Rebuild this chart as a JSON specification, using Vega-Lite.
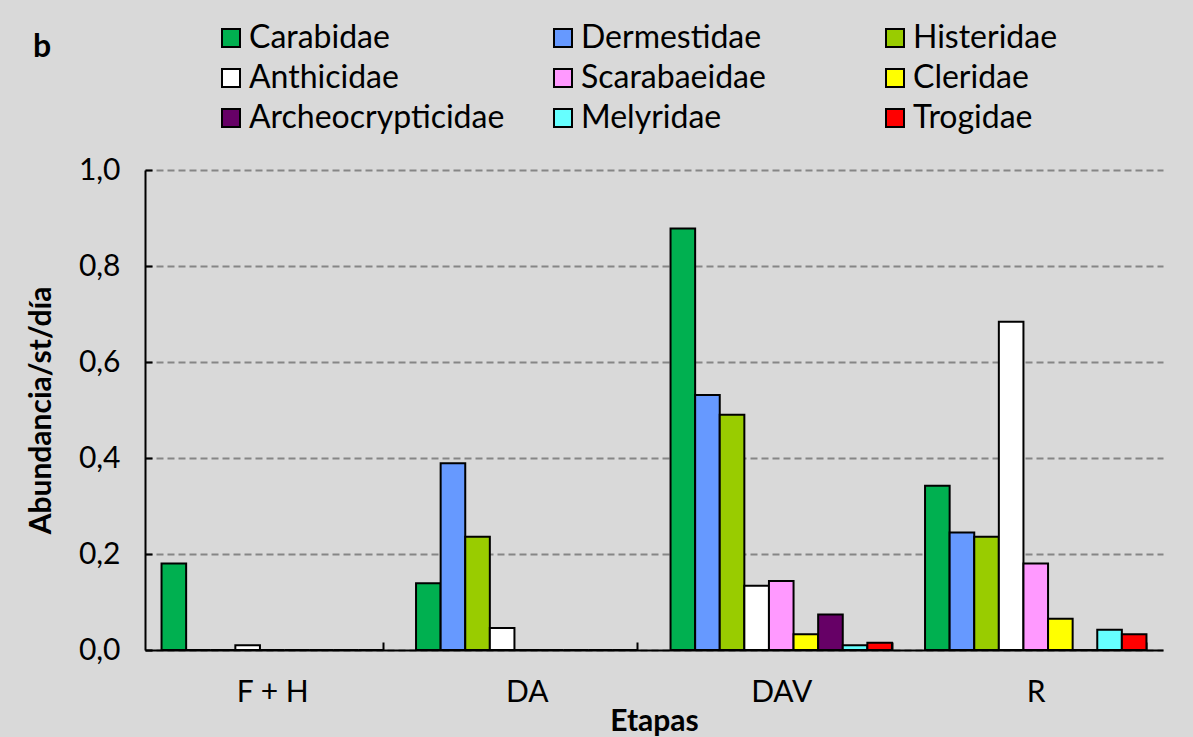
{
  "$schema": "https://vega.github.io/schema/vega-lite/v6.json",
  "width": 1018,
  "height": 480,
  "autosize": {"type": "none"},
  "padding": {"left": 145, "top": 170, "right": 30, "bottom": 87},
  "background": "#d9d9d9",
  "title": {"text": "b", "anchor": "start", "frame": "group", "fontSize": 32, "fontWeight": "bold", "font": "Lato", "color": "black", "dx": -112, "dy": 46},
  "data": {"values": [
    {"etapa": "F + H", "familia": "Carabidae", "abundancia": 0.18},
    {"etapa": "F + H", "familia": "Dermestidae", "abundancia": 0},
    {"etapa": "F + H", "familia": "Histeridae", "abundancia": 0},
    {"etapa": "F + H", "familia": "Anthicidae", "abundancia": 0.01},
    {"etapa": "F + H", "familia": "Scarabaeidae", "abundancia": 0},
    {"etapa": "F + H", "familia": "Cleridae", "abundancia": 0},
    {"etapa": "F + H", "familia": "Archeocrypticidae", "abundancia": 0},
    {"etapa": "F + H", "familia": "Melyridae", "abundancia": 0},
    {"etapa": "F + H", "familia": "Trogidae", "abundancia": 0},
    {"etapa": "DA", "familia": "Carabidae", "abundancia": 0.139},
    {"etapa": "DA", "familia": "Dermestidae", "abundancia": 0.389},
    {"etapa": "DA", "familia": "Histeridae", "abundancia": 0.236},
    {"etapa": "DA", "familia": "Anthicidae", "abundancia": 0.046},
    {"etapa": "DA", "familia": "Scarabaeidae", "abundancia": 0},
    {"etapa": "DA", "familia": "Cleridae", "abundancia": 0},
    {"etapa": "DA", "familia": "Archeocrypticidae", "abundancia": 0},
    {"etapa": "DA", "familia": "Melyridae", "abundancia": 0},
    {"etapa": "DA", "familia": "Trogidae", "abundancia": 0},
    {"etapa": "DAV", "familia": "Carabidae", "abundancia": 0.878},
    {"etapa": "DAV", "familia": "Dermestidae", "abundancia": 0.531},
    {"etapa": "DAV", "familia": "Histeridae", "abundancia": 0.49},
    {"etapa": "DAV", "familia": "Anthicidae", "abundancia": 0.134},
    {"etapa": "DAV", "familia": "Scarabaeidae", "abundancia": 0.144},
    {"etapa": "DAV", "familia": "Cleridae", "abundancia": 0.033},
    {"etapa": "DAV", "familia": "Archeocrypticidae", "abundancia": 0.074},
    {"etapa": "DAV", "familia": "Melyridae", "abundancia": 0.01},
    {"etapa": "DAV", "familia": "Trogidae", "abundancia": 0.015},
    {"etapa": "R", "familia": "Carabidae", "abundancia": 0.342},
    {"etapa": "R", "familia": "Dermestidae", "abundancia": 0.245},
    {"etapa": "R", "familia": "Histeridae", "abundancia": 0.236},
    {"etapa": "R", "familia": "Anthicidae", "abundancia": 0.684},
    {"etapa": "R", "familia": "Scarabaeidae", "abundancia": 0.18},
    {"etapa": "R", "familia": "Cleridae", "abundancia": 0.065},
    {"etapa": "R", "familia": "Archeocrypticidae", "abundancia": 0},
    {"etapa": "R", "familia": "Melyridae", "abundancia": 0.042},
    {"etapa": "R", "familia": "Trogidae", "abundancia": 0.033}
  ]},
  "mark": {"type": "bar", "stroke": "black", "strokeWidth": 2},
  "encoding": {
    "x": {
      "field": "etapa", "type": "nominal", "sort": ["F + H", "DA", "DAV", "R"],
      "scale": {"paddingInner": 0.13, "paddingOuter": 0.065},
      "axis": {
        "title": "Etapas", "titleFontSize": 30, "titleFontWeight": "bold", "titleColor": "black",
        "titleY": 80, "titleBaseline": "alphabetic",
        "labelAngle": 0, "labelFontSize": 30, "labelColor": "black", "labelPadding": 35,
        "tickBand": "extent", "tickSize": -8, "tickColor": "black", "tickWidth": 2,
        "domainColor": "black", "domainWidth": 2, "grid": false
      }
    },
    "xOffset": {
      "field": "familia", "type": "nominal",
      "sort": ["Carabidae", "Dermestidae", "Histeridae", "Anthicidae", "Scarabaeidae", "Cleridae", "Archeocrypticidae", "Melyridae", "Trogidae"],
      "scale": {"domain": ["Carabidae", "Dermestidae", "Histeridae", "Anthicidae", "Scarabaeidae", "Cleridae", "Archeocrypticidae", "Melyridae", "Trogidae"], "paddingInner": 0, "paddingOuter": 0}
    },
    "y": {
      "field": "abundancia", "type": "quantitative",
      "scale": {"domain": [0, 1]},
      "axis": {
        "title": "Abundancia/st/día", "titleFontSize": 30, "titleFontWeight": "bold", "titleColor": "black",
        "titleX": -95, "titleBaseline": "alphabetic",
        "values": [0, 0.2, 0.4, 0.6, 0.8, 1.0],
        "labelExpr": "replace(format(datum.value, '.1f'), '.', ',')",
        "labelFontSize": 30, "labelColor": "black", "labelPadding": 32,
        "tickSize": -7, "tickColor": "black", "tickWidth": 2,
        "domainColor": "black", "domainWidth": 2,
        "grid": true, "gridColor": "#868686", "gridDash": [7, 4], "gridWidth": 2
      }
    },
    "color": {
      "field": "familia", "type": "nominal",
      "scale": {
        "domain": ["Carabidae", "Dermestidae", "Histeridae", "Anthicidae", "Scarabaeidae", "Cleridae", "Archeocrypticidae", "Melyridae", "Trogidae"],
        "range": ["#00b050", "#6699ff", "#99cc00", "#ffffff", "#ff99ff", "#ffff00", "#660066", "#66ffff", "#ff0000"]
      },
      "legend": {
        "orient": "none", "legendX": 70, "legendY": -148, "direction": "horizontal",
        "columns": 3, "gridAlign": "all", "columnPadding": 42, "rowPadding": 8,
        "title": null, "padding": 0,
        "symbolType": "square", "symbolSize": 324, "symbolStrokeColor": "black", "symbolStrokeWidth": 2, "symbolOpacity": 1,
        "labelFontSize": 32, "labelColor": "black", "labelOffset": 2, "labelLimit": 400
      }
    }
  },
  "config": {"view": {"stroke": null}, "font": "Lato"}
}
